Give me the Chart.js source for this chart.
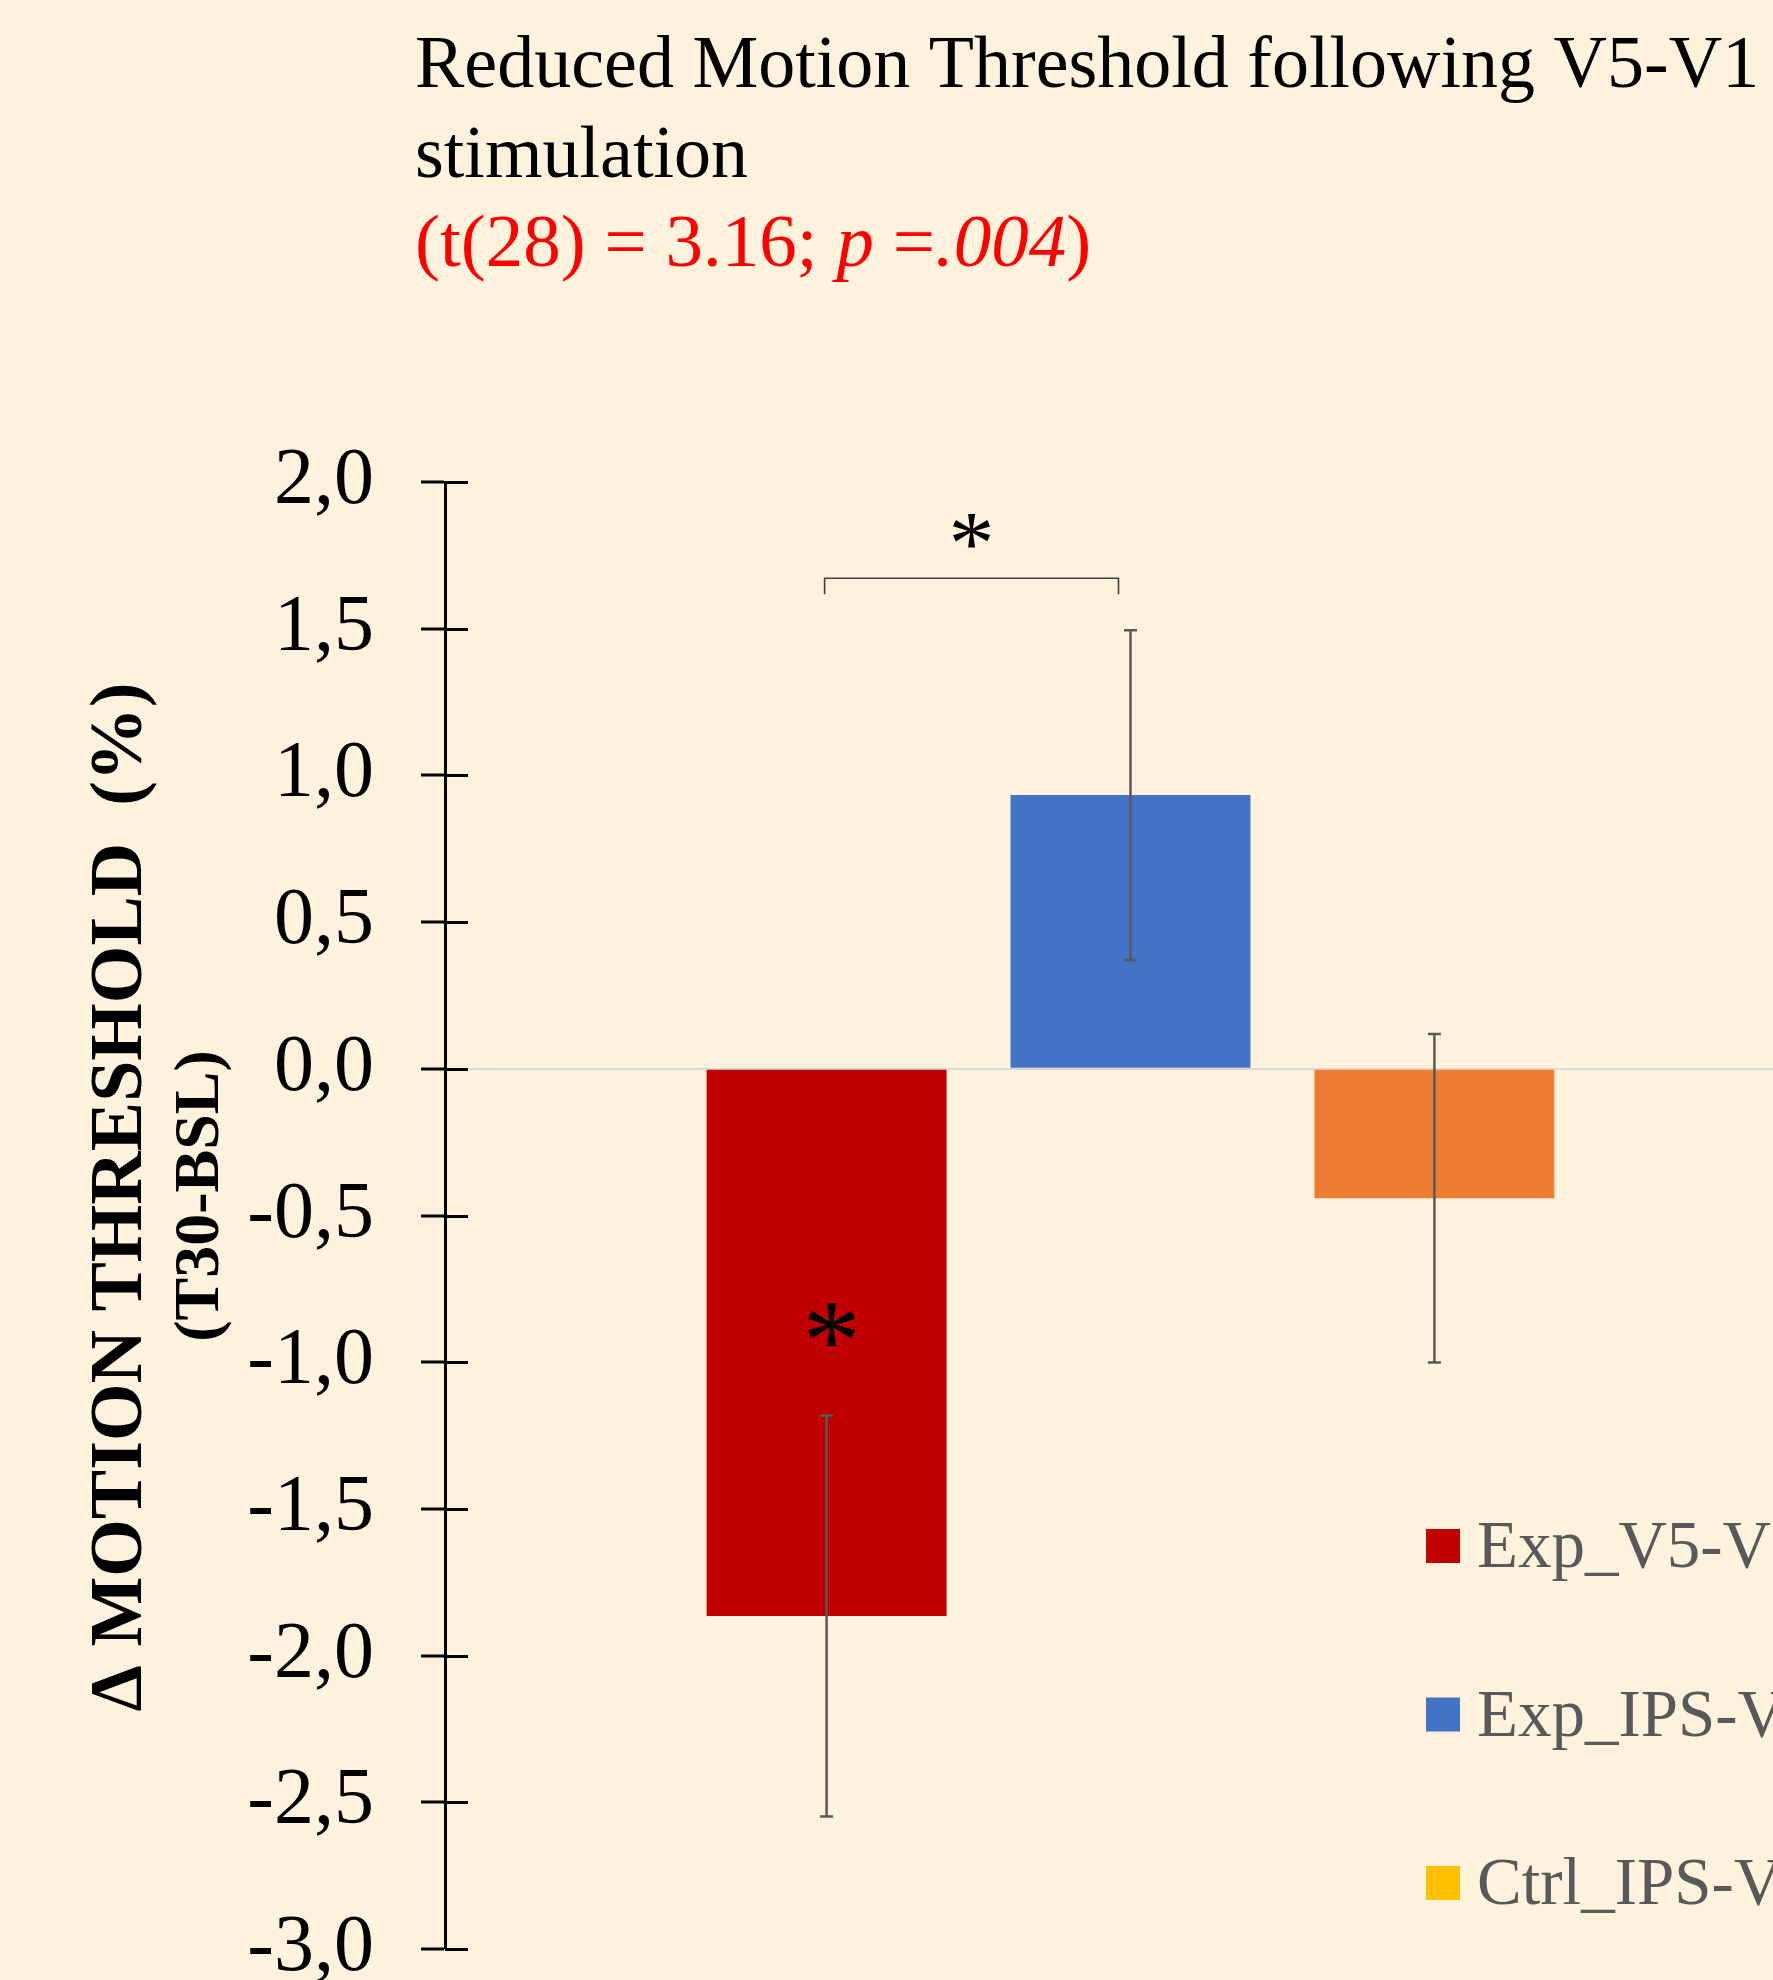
<!DOCTYPE html>
<html>
<head>
<meta charset="utf-8">
<title>Reduced Motion Threshold following V5-V1 stimulation</title>
<script src="https://cdn.jsdelivr.net/npm/chart.js@4.4.1/dist/chart.umd.min.js"></script>
<style>
  html, body { margin: 0; padding: 0; background: #FFF2DC; overflow: hidden; }
  #wrap { width: 1773px; height: 1980px; overflow: hidden; position: relative; }
  canvas { display: block; }
</style>
</head>
<body>
<div id="wrap"><canvas id="chart" width="1830" height="2044"></canvas></div>
<script>
// Change in motion threshold (T30 - baseline), mean and error per condition
const seriesNames = ['Exp_V5-V1', 'Exp_IPS-V1', 'Ctrl_IPS-V1'];
const meanChange = [-1.865, 0.933, -0.441];
const errorHalf = [0.683, 0.562, 0.560];
const barColors = ['#C00000', '#4472C4', '#ED7D31'];
const legendColors = ['#C00000', '#4472C4', '#FFC000'];
const categories = [''];

const titleLines = ['Reduced Motion Threshold following V5-V1', 'stimulation'];
// statistics line: [text, italic]
const statParts = [['(t(28) = 3.16; ', false], ['p', true], [' =', false], ['.004', true], [')', false]];
const yTitle = '\u0394 MOTION THRESHOLD  (%)';
const ySubTitle = '(T30-BSL)';

// significance marks: bracket between first two bars, star inside first bar
const bracketLevel = 1.672;
const bracketDrop = 0.055;
const starAboveLevel = 1.83;
const starInBarLevel = -0.88;

const SERIF = "'Liberation Serif', 'Times New Roman', serif";
const BG = '#FFF2DC';

const bgPlugin = {
  id: 'bg',
  beforeDraw(chart) {
    const c = chart.ctx;
    c.save();
    c.fillStyle = BG;
    c.fillRect(0, 0, chart.width, chart.height);
    c.restore();
  }
};

const headingPlugin = {
  id: 'heading',
  afterDraw(chart) {
    const c = chart.ctx;
    c.save();
    c.textBaseline = 'alphabetic';
    c.textAlign = 'left';
    c.fillStyle = '#000000';
    c.font = `74px ${SERIF}`;
    c.fillText(titleLines[0], 415, 87);
    c.fillText(titleLines[1], 415, 177);
    let x = 415;
    c.fillStyle = '#FF0000';
    statParts.forEach(([txt, it]) => {
      c.font = `${it ? 'italic ' : ''}75px ${SERIF}`;
      c.fillText(txt, x, 266);
      x += c.measureText(txt).width;
    });

    // rotated axis titles
    c.fillStyle = '#000000';
    c.textAlign = 'center';
    c.save();
    c.translate(141, 1197);
    c.rotate(-Math.PI / 2);
    c.font = `bold 74px ${SERIF}`;
    c.fillText(yTitle, 0, 0);
    c.restore();
    c.save();
    c.translate(218, 1196);
    c.rotate(-Math.PI / 2);
    c.font = `bold 64px ${SERIF}`;
    c.fillText(ySubTitle, 0, 0);
    c.restore();
    c.restore();
  }
};

const innerTicksPlugin = {
  id: 'innerTicks',
  afterDatasetsDraw(chart) {
    const y = chart.scales.y;
    const c = chart.ctx;
    const left = chart.chartArea.left;
    c.save();
    c.strokeStyle = '#000000';
    c.lineWidth = 3;
    y.ticks.forEach(t => {
      const py = Math.round(y.getPixelForValue(t.value)) + 0.5;
      c.beginPath();
      c.moveTo(left, py);
      c.lineTo(left + 23, py);
      c.stroke();
    });
    c.restore();
  }
};

const errorBarsPlugin = {
  id: 'errorBars',
  afterDatasetsDraw(chart) {
    const y = chart.scales.y;
    const c = chart.ctx;
    c.save();
    c.strokeStyle = '#595959';
    c.lineWidth = 2.5;
    chart.data.datasets.forEach((ds, i) => {
      const el = chart.getDatasetMeta(i).data[0];
      const v = ds.data[0];
      const e = errorHalf[i];
      const top = y.getPixelForValue(v + e);
      const bot = y.getPixelForValue(v - e);
      c.beginPath();
      c.moveTo(el.x, top); c.lineTo(el.x, bot);
      c.moveTo(el.x - 6.5, top); c.lineTo(el.x + 6.5, top);
      c.moveTo(el.x - 6.5, bot); c.lineTo(el.x + 6.5, bot);
      c.stroke();
    });
    c.restore();
  }
};

const significancePlugin = {
  id: 'significance',
  afterDatasetsDraw(chart) {
    const y = chart.scales.y;
    const c = chart.ctx;
    const a = chart.getDatasetMeta(0).data[0];
    const b = chart.getDatasetMeta(1).data[0];
    const x1 = a.x - 2, x2 = b.x - 12;
    const yb = y.getPixelForValue(bracketLevel);
    const yd = y.getPixelForValue(bracketLevel - bracketDrop);
    c.save();
    c.strokeStyle = '#404040';
    c.lineWidth = 1.6;
    c.beginPath();
    c.moveTo(x1, yd); c.lineTo(x1, yb); c.lineTo(x2, yb); c.lineTo(x2, yd);
    c.stroke();
    c.fillStyle = '#000000';
    c.textAlign = 'center';
    c.textBaseline = 'middle';
    c.font = `92px ${SERIF}`;
    c.fillText('*', (x1 + x2) / 2, y.getPixelForValue(starAboveLevel) + 18);
    c.font = `116px ${SERIF}`;
    c.fillText('*', a.x + 5, y.getPixelForValue(starInBarLevel) + 23);
    c.restore();
  }
};

const legendPlugin = {
  id: 'sideLegend',
  afterDraw(chart) {
    const c = chart.ctx;
    c.save();
    c.font = `67px ${SERIF}`;
    c.textAlign = 'left';
    c.textBaseline = 'alphabetic';
    seriesNames.forEach((name, i) => {
      const top = 1529 + i * 168.5;
      c.fillStyle = legendColors[i];
      c.fillRect(1426, top, 34, 34);
      c.fillStyle = '#595959';
      c.fillText(name, 1477, top + 38);
    });
    c.restore();
  }
};

new Chart(document.getElementById('chart'), {
  type: 'bar',
  data: {
    labels: categories,
    datasets: seriesNames.map((name, i) => ({
      label: name,
      data: [meanChange[i]],
      backgroundColor: barColors[i],
      borderWidth: 0
    }))
  },
  options: {
    responsive: false,
    animation: false,
    devicePixelRatio: 1,
    layout: { padding: { top: 482, left: 0, right: 14, bottom: 0 } },
    categoryPercentage: 0.665,
    barPercentage: 0.7895,
    plugins: {
      legend: { display: false },
      title: { display: false },
      tooltip: { enabled: false }
    },
    scales: {
      x: { display: false },
      y: {
        min: -3,
        max: 2,
        afterFit(scale) { scale.width = 445; },
        border: { display: true, color: '#000000', width: 3 },
        grid: {
          drawOnChartArea: true,
          drawTicks: true,
          tickLength: 24,
          tickColor: '#000000',
          tickWidth: 3,
          color: ctx => (ctx.tick && ctx.tick.value === 0) ? '#D9D9D9' : 'rgba(0,0,0,0)',
          lineWidth: ctx => (ctx.tick && ctx.tick.value === 0) ? 2 : 0
        },
        ticks: {
          stepSize: 0.5,
          padding: 47,
          color: '#000000',
          font: { family: SERIF, size: 80 },
          callback: v => v.toFixed(1).replace('.', ',')
        }
      }
    }
  },
  plugins: [bgPlugin, headingPlugin, innerTicksPlugin, errorBarsPlugin, significancePlugin, legendPlugin]
});
</script>
</body>
</html>
